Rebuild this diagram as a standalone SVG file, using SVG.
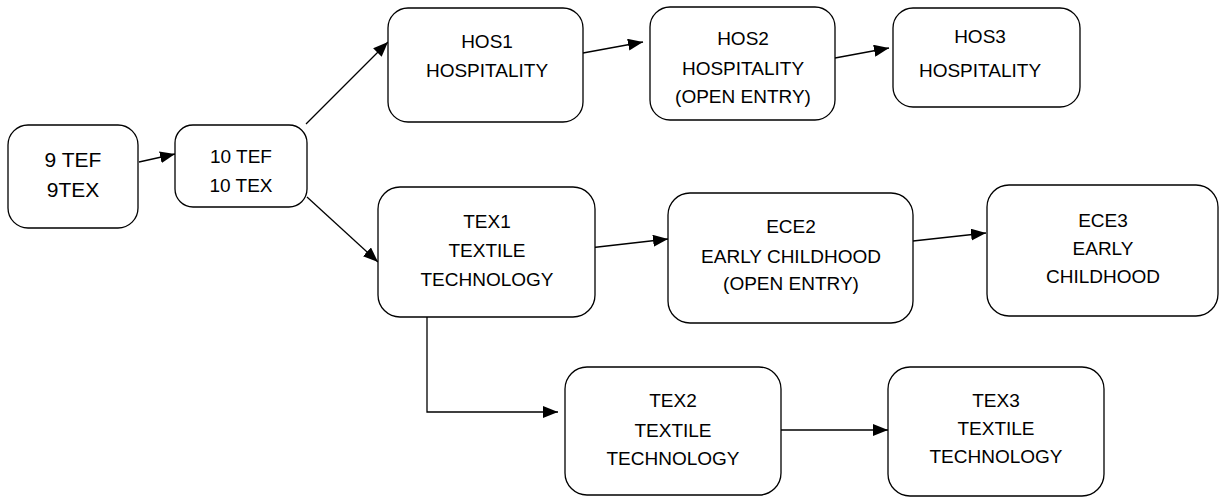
<svg xmlns="http://www.w3.org/2000/svg" width="1219" height="497" viewBox="0 0 1219 497">
<style>
.box{fill:#fff;stroke:#000;stroke-width:1.3}
.t{font-family:"Liberation Sans",Arial,sans-serif;font-size:19px;text-anchor:middle;fill:#000}
.big{font-size:21px}
.c{fill:none;stroke:#000;stroke-width:1.3}
</style>
<defs>
<marker id="ah" markerUnits="userSpaceOnUse" markerWidth="16" markerHeight="12" refX="15" refY="6" orient="auto">
<path d="M0,0 L15,6 L0,12 z" fill="#000"/>
</marker>
</defs>
<rect width="1219" height="497" fill="#fff"/>
<g id="connectors">
<line class="c" x1="139" y1="162" x2="175" y2="154" marker-end="url(#ah)"/>
<line class="c" x1="306" y1="124" x2="388" y2="42" marker-end="url(#ah)"/>
<line class="c" x1="307" y1="197" x2="378" y2="262" marker-end="url(#ah)"/>
<line class="c" x1="583" y1="53" x2="643" y2="42" marker-end="url(#ah)"/>
<line class="c" x1="835" y1="58" x2="889" y2="48" marker-end="url(#ah)"/>
<line class="c" x1="589" y1="248" x2="668" y2="239" marker-end="url(#ah)"/>
<line class="c" x1="913" y1="241" x2="986" y2="233" marker-end="url(#ah)"/>
<polyline class="c" points="423,315 427,315 427,412 558,412" marker-end="url(#ah)"/>
<line class="c" x1="778" y1="430" x2="888" y2="430" marker-end="url(#ah)"/>
</g>
<g id="n9tef">
<rect class="box" x="8" y="125" width="130" height="103" rx="20"/>
<text class="t big" x="73" y="167">9 TEF</text>
<text class="t big" x="73" y="197">9TEX</text>
</g>
<g id="n10tef">
<rect class="box" x="175" y="125" width="132" height="82" rx="18"/>
<text class="t" x="241" y="163">10 TEF</text>
<text class="t" x="241" y="192">10 TEX</text>
</g>
<g id="hos1">
<rect class="box" x="388" y="8" width="195" height="114" rx="20"/>
<text class="t" x="487" y="48">HOS1</text>
<text class="t" x="487" y="77">HOSPITALITY</text>
</g>
<g id="hos2">
<rect class="box" x="650" y="7" width="185" height="113" rx="20"/>
<text class="t" x="743" y="45">HOS2</text>
<text class="t" x="743" y="75">HOSPITALITY</text>
<text class="t" x="743" y="103">(OPEN ENTRY)</text>
</g>
<g id="hos3">
<rect class="box" x="893" y="8" width="187" height="99" rx="20"/>
<text class="t" x="980" y="43">HOS3</text>
<text class="t" x="980" y="77">HOSPITALITY</text>
</g>
<g id="tex1">
<rect class="box" x="378" y="187" width="217" height="130" rx="22"/>
<text class="t" x="487" y="228">TEX1</text>
<text class="t" x="487" y="257">TEXTILE</text>
<text class="t" x="487" y="286">TECHNOLOGY</text>
</g>
<g id="ece2">
<rect class="box" x="668" y="193" width="245" height="130" rx="22"/>
<text class="t" x="791" y="233">ECE2</text>
<text class="t" x="791" y="263">EARLY CHILDHOOD</text>
<text class="t" x="791" y="290">(OPEN ENTRY)</text>
</g>
<g id="ece3">
<rect class="box" x="987" y="185" width="231" height="131" rx="22"/>
<text class="t" x="1103" y="227">ECE3</text>
<text class="t" x="1103" y="255">EARLY</text>
<text class="t" x="1103" y="283">CHILDHOOD</text>
</g>
<g id="tex2">
<rect class="box" x="565" y="367" width="216" height="128" rx="22"/>
<text class="t" x="673" y="407">TEX2</text>
<text class="t" x="673" y="437">TEXTILE</text>
<text class="t" x="673" y="465">TECHNOLOGY</text>
</g>
<g id="tex3">
<rect class="box" x="888" y="367" width="216" height="129" rx="22"/>
<text class="t" x="996" y="407">TEX3</text>
<text class="t" x="996" y="435">TEXTILE</text>
<text class="t" x="996" y="463">TECHNOLOGY</text>
</g>
</svg>
